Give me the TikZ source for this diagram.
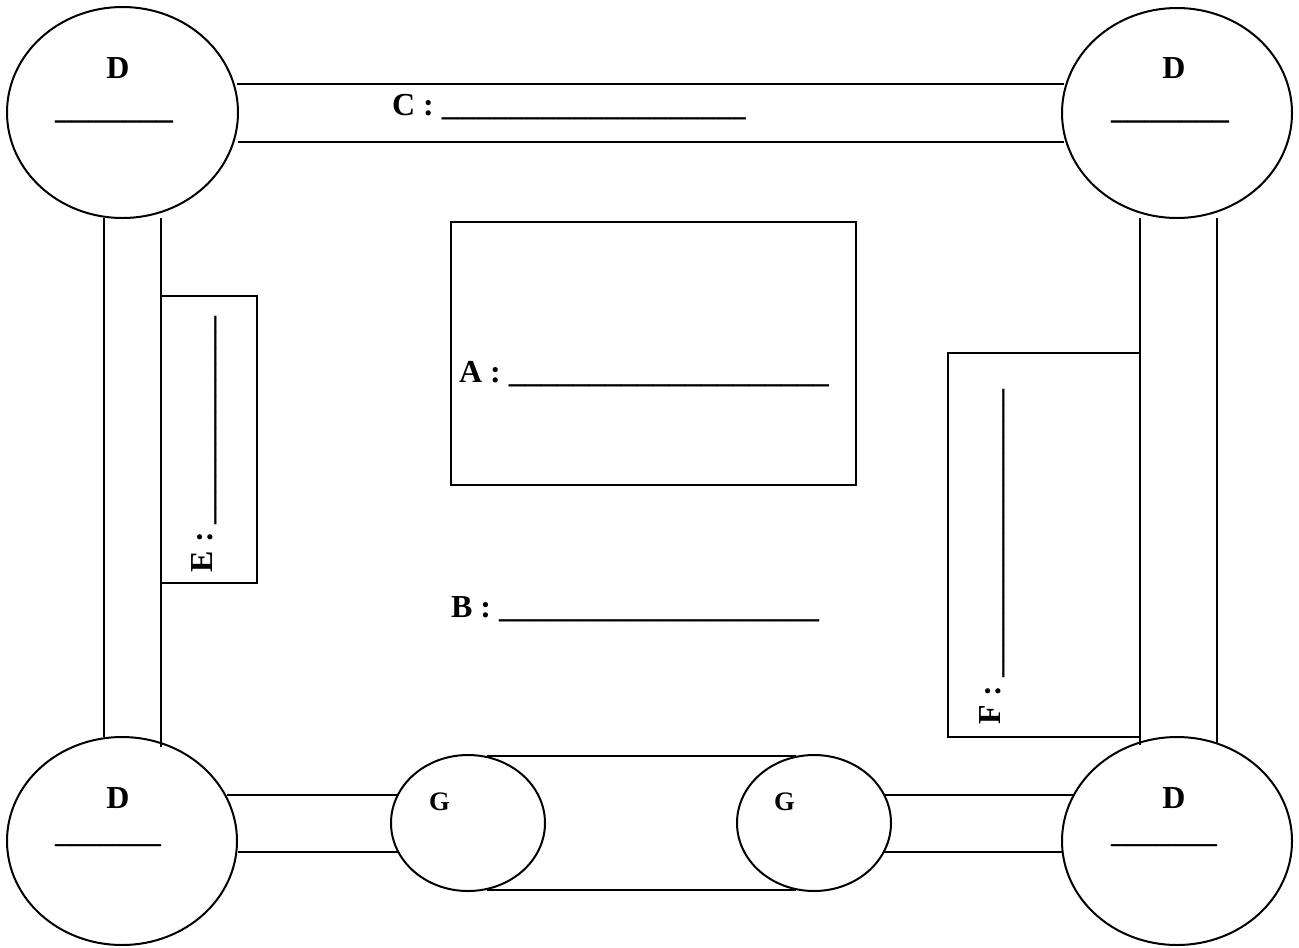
\documentclass[tikz,border=0pt]{standalone}
\usepackage{fontspec}
\setmainfont{Liberation Serif}
\newlength{\du}
\setlength{\du}{0.75pt}
\newcommand{\fillin}[1]{\foreach \k in {1,...,#1}{\_}}
\tikzset{
  lbl/.style={anchor=base west,inner sep=0pt,outer sep=0pt,font=\fontsize{24}{28}\selectfont\bfseries},
  lblmid/.style={lbl,anchor=base},
  glbl/.style={lbl,font=\fontsize{20}{24}\selectfont\bfseries},
}
\begin{document}
\begin{tikzpicture}[line width=2\du]
\pgftransformyscale{-1}
\useasboundingbox (0\du,0\du) rectangle (1299\du,947\du);
% ponds
\draw (122.5\du,112.5\du) ellipse [x radius=115.5\du, y radius=105.5\du];
\draw (1177\du,113\du) ellipse [x radius=115\du, y radius=105\du];
\draw (122\du,841\du) ellipse [x radius=115\du, y radius=104\du];
\draw (1177\du,841\du) ellipse [x radius=115\du, y radius=104\du];
% top channel
\draw (237\du,84\du)--(1064\du,84\du);
\draw (238\du,142\du)--(1064\du,142\du);
% left channel
\draw (104\du,218\du)--(104\du,737\du);
\draw (161\du,218\du)--(161\du,747\du);
% right channel
\draw (1140\du,218\du)--(1140\du,745\du);
\draw (1217\du,218\du)--(1217\du,743\du);
% bottom channel
\draw (227\du,795\du)--(399\du,795\du);
\draw (238\du,852\du)--(399\du,852\du);
\draw (885\du,795\du)--(1073\du,795\du);
\draw (884\du,852\du)--(1063\du,852\du);
% boxes
\draw (161\du,296\du) rectangle (257\du,583\du);
\draw (948\du,353\du) rectangle (1140\du,737\du);
\draw (451\du,222\du) rectangle (856\du,485\du);
% belt and rollers
\draw (487\du,756\du)--(796\du,756\du);
\draw (487\du,890\du)--(796\du,890\du);
\draw (468\du,823\du) ellipse [x radius=77\du, y radius=68\du];
\draw (814\du,823\du) ellipse [x radius=77\du, y radius=68\du];
% labels
\node[lbl] (lblC) at (392\du,115\du) {C : \fillin{19}};
\node[lbl] (lblA) at (459\du,382\du) {A : \fillin{20}};
\node[lbl] (lblB) at (451\du,617\du) {B : \fillin{20}};
\node[lbl,rotate=90] (lblE) at (212\du,572\du) {E : \fillin{13}};
\node[lbl,rotate=90] (lblF) at (1000\du,724\du) {F : \fillin{18}};
\node[lblmid] (dTL) at (118\du,78\du) {D};
\node[lblmid] (dTR) at (1174\du,78\du) {D};
\node[lblmid] (dBL) at (118\du,808\du) {D};
\node[lblmid] (dBR) at (1174\du,808\du) {D};
\node[lbl,font=\fontsize{25.3}{28}\selectfont\bfseries] (uTL) at (55\du,118\du) {\fillin{7}};
\node[lbl,font=\fontsize{25.3}{28}\selectfont\bfseries] (uTR) at (1111\du,118\du) {\fillin{7}};
\node[lbl,font=\fontsize{22.7}{26}\selectfont\bfseries] (uBL) at (55\du,842\du) {\fillin{7}};
\node[lbl,font=\fontsize{22.7}{26}\selectfont\bfseries] (uBR) at (1111\du,842\du) {\fillin{7}};
\node[glbl] (gL) at (429\du,810\du) {G};
\node[glbl] (gR) at (774\du,810\du) {G};
\end{tikzpicture}
\end{document}
